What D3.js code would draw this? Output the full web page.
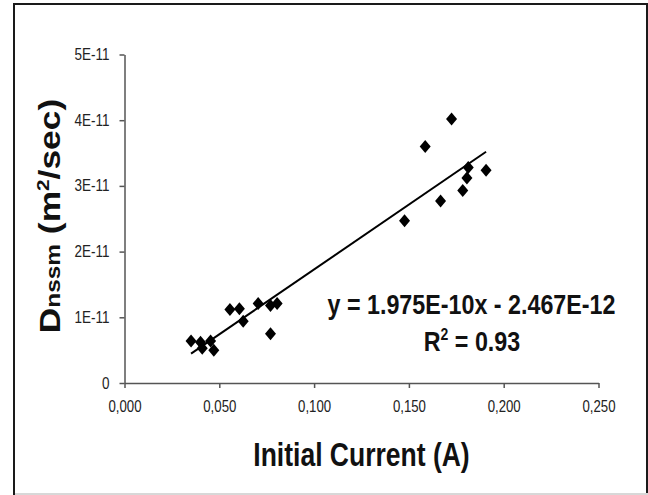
<!DOCTYPE html>
<html>
<head>
<meta charset="utf-8">
<script src="https://cdn.jsdelivr.net/npm/d3@7"></script>
<style>
  body { margin: 0; background: #fff; }
  text { font-family: Arial, "Liberation Sans", sans-serif; }
</style>
</head>
<body>
<script>
// initial current (A)
var currents = [0.0351, 0.0401, 0.0410, 0.0454, 0.0471, 0.0556, 0.0606, 0.0626, 0.0705, 0.0770,
                0.0770, 0.0805, 0.1477, 0.1586, 0.1667, 0.1725, 0.1784, 0.1806, 0.1813, 0.1907];
// Dnssm (m2/sec)
var dnssm = [6.4e-12, 6.2e-12, 5.3e-12, 6.4e-12, 5.0e-12, 11.2e-12, 11.3e-12, 9.4e-12, 12.1e-12, 11.8e-12,
             7.5e-12, 12.1e-12, 24.7e-12, 36.0e-12, 27.7e-12, 40.2e-12, 29.3e-12, 31.2e-12, 32.8e-12, 32.4e-12];

var xTicks = [0, 0.05, 0.1, 0.15, 0.2, 0.25];
var yTicks = [0, 1e-11, 2e-11, 3e-11, 4e-11, 5e-11];

// trendline from the chart label
var slope = 1.975e-10;
var intercept = -2.467e-12;
var r2 = "0.93";

var width = 648, height = 495;
var sy = 1.22; // the original picture is stretched vertically

function sci(v) {
    return v.toExponential(3).toUpperCase();
}

var svg = d3.select("body").append("svg")
    .attr("width", width)
    .attr("height", height);

svg.append("rect")
    .attr("width", width).attr("height", height)
    .attr("fill", "#fff");

// outer frame
svg.append("rect")
    .attr("x", 14).attr("y", 4)
    .attr("width", 633).attr("height", 500)
    .attr("fill", "none")
    .attr("stroke", "#1a1a1a")
    .attr("stroke-width", 2);
svg.append("line")
    .attr("x1", 15).attr("x2", 648)
    .attr("y1", 494).attr("y2", 494)
    .attr("stroke", "#d8d8d8").attr("stroke-width", 2);

var x = d3.scaleLinear().domain([0, 0.25]).range([124.5, 598.5]);
var y = d3.scaleLinear().domain([0, 5e-11]).range([383, 54.5]);

// x axis
var xAxis = svg.append("g")
    .attr("transform", "translate(0," + y(0) + ")")
    .call(d3.axisBottom(x)
        .tickValues(xTicks)
        .tickSizeInner(5)
        .tickSizeOuter(0)
        .tickFormat(function(d){ return d3.format(".3f")(d).replace(".", ","); }));

xAxis.selectAll(".tick text")
    .attr("y", null).attr("dy", null)
    .attr("transform", "translate(0,29) scale(1," + sy + ")")
    .attr("font-size", 13.2)
    .attr("fill", "#222");

// y axis
var yAxis = svg.append("g")
    .attr("transform", "translate(" + x(0) + ",0)")
    .call(d3.axisLeft(y)
        .tickValues(yTicks)
        .tickSizeInner(5)
        .tickSizeOuter(0)
        .tickFormat(function(d){
            if (d === 0) return "0";
            return Math.round(d / 1e-11) + "E-11";
        }));

yAxis.selectAll(".tick text")
    .attr("x", null).attr("dy", null)
    .attr("transform", "translate(-15,5) scale(1," + sy + ")")
    .attr("font-size", 13.5)
    .attr("fill", "#222");

svg.selectAll(".domain, .tick line")
    .attr("stroke", "#555")
    .attr("stroke-width", 1.5);

// trendline
var xMin = d3.min(currents), xMax = d3.max(currents);
svg.append("line")
    .attr("x1", x(xMin)).attr("y1", y(slope * xMin + intercept))
    .attr("x2", x(xMax)).attr("y2", y(slope * xMax + intercept))
    .attr("stroke", "#000")
    .attr("stroke-width", 2);

// markers
var points = currents.map(function(c, i){ return { x: c, y: dnssm[i] }; });

svg.selectAll("path.pt")
    .data(points)
    .enter()
    .append("path")
    .attr("class", "pt")
    .attr("d", "M0,-6.5L5.5,0L0,6.5L-5.5,0Z")
    .attr("transform", function(d){
        return "translate(" + x(d.x) + "," + y(d.y) + ")";
    })
    .attr("fill", "#000");

// equation labels
svg.append("text")
    .attr("transform", "translate(471.5,313.5) scale(1," + sy + ")")
    .attr("text-anchor", "middle")
    .attr("font-size", 23.3)
    .attr("font-weight", "bold")
    .attr("fill", "#111")
    .text("y = " + sci(slope) + "x - " + sci(-intercept));

var r2Text = svg.append("text")
    .attr("transform", "translate(472,351) scale(1," + sy + ")")
    .attr("text-anchor", "middle")
    .attr("font-size", 23.3)
    .attr("font-weight", "bold")
    .attr("fill", "#111");
r2Text.append("tspan").text("R");
r2Text.append("tspan").attr("font-size", 14).attr("dy", -9).text("2");
r2Text.append("tspan").attr("dy", 9).text(" = " + r2);

// axis titles
svg.append("text")
    .attr("transform", "translate(361.5,466) scale(1,1.25)")
    .attr("text-anchor", "middle")
    .attr("font-size", 26.5)
    .attr("font-weight", "bold")
    .attr("fill", "#111")
    .text("Initial Current (A)");

var yTitle = svg.append("text")
    .attr("transform", "translate(60,216) rotate(-90) scale(1.22,1)")
    .attr("text-anchor", "middle")
    .attr("font-size", 29)
    .attr("font-weight", "bold")
    .attr("fill", "#111");
yTitle.append("tspan").text("D");
yTitle.append("tspan").attr("font-size", 20).text("nssm");
yTitle.append("tspan").text(" (m");
yTitle.append("tspan").attr("font-size", 17).attr("dy", -11).text("2");
yTitle.append("tspan").attr("dy", 11).text("/sec)");
</script>
</body>
</html>
